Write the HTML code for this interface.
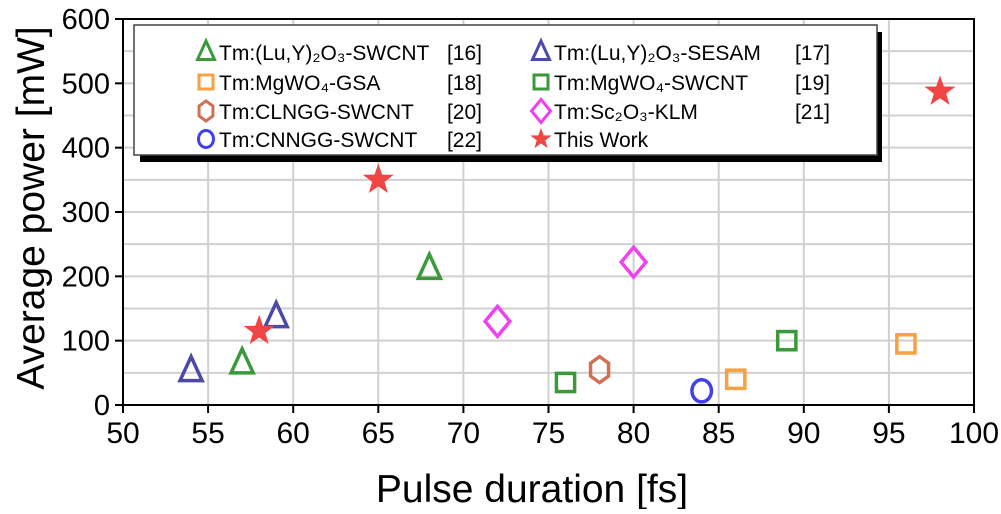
<!DOCTYPE html>
<html><head><meta charset="utf-8"><style>
body{margin:0;background:#fff;}
svg text{font-family:"Liberation Sans",sans-serif;}
</style></head><body>
<svg id="chart" width="1001" height="509" xmlns="http://www.w3.org/2000/svg">
<g id="grid"></g>
<g id="axes"></g>
<g id="legend"></g>
<g id="marks"></g>
<text x="0" y="0" transform="translate(44,208) rotate(-90)" text-anchor="middle" font-size="39">Average power [mW]</text>
<text x="532" y="502" text-anchor="middle" font-size="39">Pulse duration [fs]</text>
</svg>
<script>
const xTicks=[50,55,60,65,70,75,80,85,90,95,100];
const yTicks=[0,100,200,300,400,500,600];
const seriesNames=["tri-green","tri-blue","sq-orange","sq-green","hexagon","diamond","circle","star"];
const triGreenX=[57,68], triGreenY=[65,212];
const triBlueX=[54,59], triBlueY=[53,137];
const sqOrangeX=[86,96], sqOrangeY=[40,95];
const sqGreenX=[76,89], sqGreenY=[35,100];
const hexX=[78], hexY=[55];
const diaX=[72,80], diaY=[130,222];
const circX=[84], circY=[22];
const starX=[58,65,98], starY=[115,350,487];

const X0=123,X1=974,Y0=405,Y1=19;
const sx=v=>X0+(v-50)/(100-50)*(X1-X0);
const sy=v=>Y0-(v-0)/(600-0)*(Y0-Y1);
const NS="http://www.w3.org/2000/svg";
function mk(tag,attrs,parent){const e=document.createElementNS(NS,tag);for(const k in attrs)e.setAttribute(k,attrs[k]);parent.appendChild(e);return e;}
const grid=document.getElementById('grid'),axes=document.getElementById('axes'),marks=document.getElementById('marks'),leg=document.getElementById('legend');
for(let v=50;v<600;v+=100){const l=mk('line',{x1:X0,x2:X1,y1:sy(v),y2:sy(v),stroke:'#d0d0d0','stroke-width':2},grid);

}
yTicks.forEach(v=>{const l=mk('line',{x1:X0,x2:X1,y1:sy(v),y2:sy(v),stroke:'#d0d0d0','stroke-width':2},grid);


const t=mk('line',{x1:X0-8,x2:X0,y1:sy(v),y2:sy(v),stroke:'#000','stroke-width':2},axes);


const tx=mk('text',{x:X0-13,y:sy(v)+10,'text-anchor':'end','font-size':29},axes);tx.textContent=v;

});
xTicks.forEach(v=>{const l=mk('line',{x1:sx(v),x2:sx(v),y1:Y0,y2:Y1,stroke:'#d0d0d0','stroke-width':2},grid);


const t=mk('line',{x1:sx(v),x2:sx(v),y1:Y0,y2:Y0+8,stroke:'#000','stroke-width':2},axes);


const tx=mk('text',{x:sx(v),y:Y0+38,'text-anchor':'middle','font-size':30},axes);tx.textContent=v;

});
const fr=mk('rect',{x:X0,y:Y1,width:X1-X0,height:Y0-Y1,fill:'none',stroke:'#000','stroke-width':2},axes);



function marker(type,cx,cy,s,parent){
 let e;
 if(type==='tri'){e=mk('polygon',{points:`${cx},${cy-s*1.1} ${cx-s*0.85},${cy+s*0.75} ${cx+s*0.85},${cy+s*0.75}`},parent);}
 else if(type==='sq'){e=mk('rect',{x:cx-s*0.7,y:cy-s*0.7,width:s*1.4,height:s*1.4},parent);}
 else if(type==='hex'){let p=[];for(let i=0;i<6;i++){const a=Math.PI/6+i*Math.PI/3;p.push((cx+s*0.8*Math.cos(a))+','+(cy+s*Math.sin(a)));}e=mk('polygon',{points:p.join(' ')},parent);}
 else if(type==='dia'){e=mk('polygon',{points:`${cx},${cy-s*1.15} ${cx+s*0.95},${cy} ${cx},${cy+s*1.15} ${cx-s*0.95},${cy}`},parent);}
 else if(type==='circ'){e=mk('ellipse',{cx:cx,cy:cy,rx:s*0.75,ry:s*0.85},parent);}
 else {let p=[];for(let i=0;i<10;i++){const r=i%2?s*0.5:s*1.25;const a=-Math.PI/2+i*Math.PI/5;p.push((cx+r*Math.cos(a))+','+(cy+r*Math.sin(a)));}e=mk('polygon',{points:p.join(' ')},parent);}
 return e;
}
const series=[
 {t:'tri',c:'#3a9a3a',X:triGreenX,Y:triGreenY,lab:'Tm:(Lu,Y)₂O₃-SWCNT',ref:'[16]'},
 {t:'tri',c:'#4a4aa8',X:triBlueX,Y:triBlueY,lab:'Tm:(Lu,Y)₂O₃-SESAM',ref:'[17]'},
 {t:'sq',c:'#f9a040',X:sqOrangeX,Y:sqOrangeY,lab:'Tm:MgWO₄-GSA',ref:'[18]'},
 {t:'sq',c:'#3a9a3a',X:sqGreenX,Y:sqGreenY,lab:'Tm:MgWO₄-SWCNT',ref:'[19]'},
 {t:'hex',c:'#d07055',X:hexX,Y:hexY,lab:'Tm:CLNGG-SWCNT',ref:'[20]'},
 {t:'dia',c:'#f040f0',X:diaX,Y:diaY,lab:'Tm:Sc₂O₃-KLM',ref:'[21]'},
 {t:'circ',c:'#4040f0',X:circX,Y:circY,lab:'Tm:CNNGG-SWCNT',ref:'[22]'},
 {t:'star',c:'#f04545',X:starX,Y:starY,lab:'This Work',ref:''}
];
series.forEach((s,si)=>{s.X.forEach((xv,i)=>{
 const e=marker(s.t,sx(xv),sy(s.Y[i]),13,marks);
 if(s.t==='star'){e.setAttribute('fill',s.c);}else{e.setAttribute('fill','none');e.setAttribute('stroke',s.c);e.setAttribute('stroke-width',3.5);}
 
 
});});
const sh=mk('rect',{x:140,y:32,width:742,height:130,fill:'#000'},leg);


const bx=mk('rect',{x:134,y:25,width:743,height:130,fill:'#fff',stroke:'#444','stroke-width':1.5},leg);


const rowsY=[52,82,111,139];
series.forEach((s,i)=>{
 const col=i%2,row=Math.floor(i/2);
 const mx=col?541:206,cy=rowsY[row];
 const e=marker(s.t,mx,cy,s.t==='star'?9:10,leg);
 if(s.t==='star'){e.setAttribute('fill',s.c);}else{e.setAttribute('fill','none');e.setAttribute('stroke',s.c);e.setAttribute('stroke-width',3);}
 
 
 const t=mk('text',{x:mx+13,y:cy+8,'font-size':21},leg);t.textContent=s.lab;
 
 
 if(s.ref){const r=mk('text',{x:col?830:482,y:cy+8,'font-size':21,'text-anchor':'end'},leg);r.textContent=s.ref;
 
 }
});
</script>
</body></html>
